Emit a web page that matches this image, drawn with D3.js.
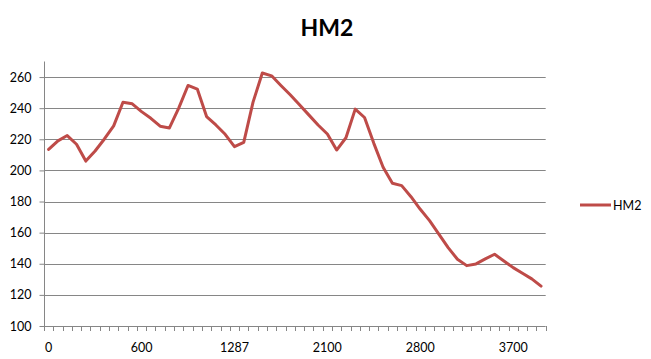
<!DOCTYPE html>
<html>
<head>
<meta charset="utf-8">
<script src="https://cdn.jsdelivr.net/npm/d3@7"></script>
<style>
  html, body { margin: 0; padding: 0; background: #fff; }
  svg { display: block; font-family: Lato, "Open Sans", sans-serif; }
</style>
</head>
<body>
<div id="chart"></div>
<script>
// Series (54 categories, only some are labelled on the axis)
const seriesName = "HM2";
const values = [
  213.5, 219, 222.4, 216.8, 206, 212.5, 220.2, 228.6, 243.8, 242.8,
  237.8, 233.5, 228.4, 227.3, 240, 254.6, 252.3, 234.6, 229.2, 223.2,
  215.3, 218, 243.9, 262.6, 260.8, 254.6, 248.6, 242.2, 235.7, 229.2,
  223.4, 213.1, 221, 239.4, 234, 217.4, 202, 191.7, 190.2, 183.1,
  175, 167.7, 159.1, 150.4, 142.9, 138.8, 139.9, 143.1, 146.1, 141.8,
  137.5, 133.9, 130.3, 125.6
];
const categoryIndex = values.map((_, i) => i);
const xTickIndex = [0, 10, 20, 30, 40, 50];
const xTickLabels = ["0", "600", "1287", "2100", "2800", "3700"];
const yTicks = [100, 120, 140, 160, 180, 200, 220, 240, 260];
const yDomain = [100, 270];

const width = 651, height = 359;
const plot = { left: 44, right: 545.7, top: 61.5, bottom: 326 };
const lineColor = "#be4b48";
const gridColor = "#868686";

const svg = d3.select("#chart").append("svg")
  .attr("width", width)
  .attr("height", height);

const x = d3.scaleBand()
  .domain(categoryIndex)
  .range([plot.left, plot.right])
  .paddingInner(0)
  .paddingOuter(0);

const y = d3.scaleLinear()
  .domain(yDomain)
  .range([plot.bottom, plot.top]);

// Title
svg.append("text")
  .attr("x", 327)
  .attr("y", 36)
  .attr("text-anchor", "middle")
  .attr("font-size", "23px")
  .attr("font-weight", "bold")
  .attr("fill", "#000")
  .text(seriesName);

// Horizontal gridlines (no line at 100, the axis covers it)
svg.append("g")
  .selectAll("line")
  .data(yTicks.filter((d) => d !== yDomain[0]))
  .join("line")
  .attr("x1", plot.left)
  .attr("x2", plot.right)
  .attr("y1", (d) => Math.round(y(d)) + 0.5)
  .attr("y2", (d) => Math.round(y(d)) + 0.5)
  .attr("stroke", gridColor)
  .attr("stroke-width", 1);

// Y axis
const yAxis = svg.append("g")
  .attr("transform", `translate(${Math.round(plot.left) + 0.5},0)`)
  .call(d3.axisLeft(y).tickValues(yTicks).tickSize(5).tickPadding(8));
yAxis.select(".domain").remove();
yAxis.append("line")
  .attr("y1", plot.top)
  .attr("y2", plot.bottom)
  .attr("stroke", gridColor);
yAxis.selectAll(".tick line").attr("stroke", gridColor);
yAxis.selectAll(".tick text")
  .attr("font-size", "12.5px")
  .attr("font-family", "Lato, 'Open Sans', sans-serif")
  .attr("fill", "#000");

// X axis: tick marks at category boundaries, labels at some category centres
const boundaries = categoryIndex.map((d) => x(d)).concat([plot.right]);
const xAxis = svg.append("g");
xAxis.append("line")
  .attr("x1", plot.left)
  .attr("x2", plot.right)
  .attr("y1", Math.round(plot.bottom) + 0.5)
  .attr("y2", Math.round(plot.bottom) + 0.5)
  .attr("stroke", gridColor);
xAxis.selectAll("line.tick")
  .data(boundaries)
  .join("line")
  .attr("class", "tick")
  .attr("x1", (d) => Math.round(d) + 0.5)
  .attr("x2", (d) => Math.round(d) + 0.5)
  .attr("y1", plot.bottom)
  .attr("y2", plot.bottom + 5)
  .attr("stroke", gridColor);
xAxis.selectAll("text")
  .data(xTickIndex)
  .join("text")
  .attr("x", (d) => x(d) + x.bandwidth() / 2)
  .attr("y", 352)
  .attr("text-anchor", "middle")
  .attr("font-size", "12.5px")
  .attr("fill", "#000")
  .text((d, i) => xTickLabels[i]);

// Line
const line = d3.line()
  .x((d, i) => x(i) + x.bandwidth() / 2)
  .y((d) => y(d));

svg.append("path")
  .datum(values)
  .attr("d", line)
  .attr("fill", "none")
  .attr("stroke", lineColor)
  .attr("stroke-width", 3)
  .attr("stroke-linejoin", "round")
  .attr("stroke-linecap", "round");

// Legend
const legend = svg.append("g").attr("transform", "translate(580,205)");
legend.append("line")
  .attr("x1", 0)
  .attr("x2", 31)
  .attr("y1", 0)
  .attr("y2", 0)
  .attr("stroke", lineColor)
  .attr("stroke-width", 3);
legend.append("text")
  .attr("x", 33)
  .attr("y", 4.5)
  .attr("font-size", "12.5px")
  .attr("fill", "#000")
  .text(seriesName);
</script>
</body>
</html>
